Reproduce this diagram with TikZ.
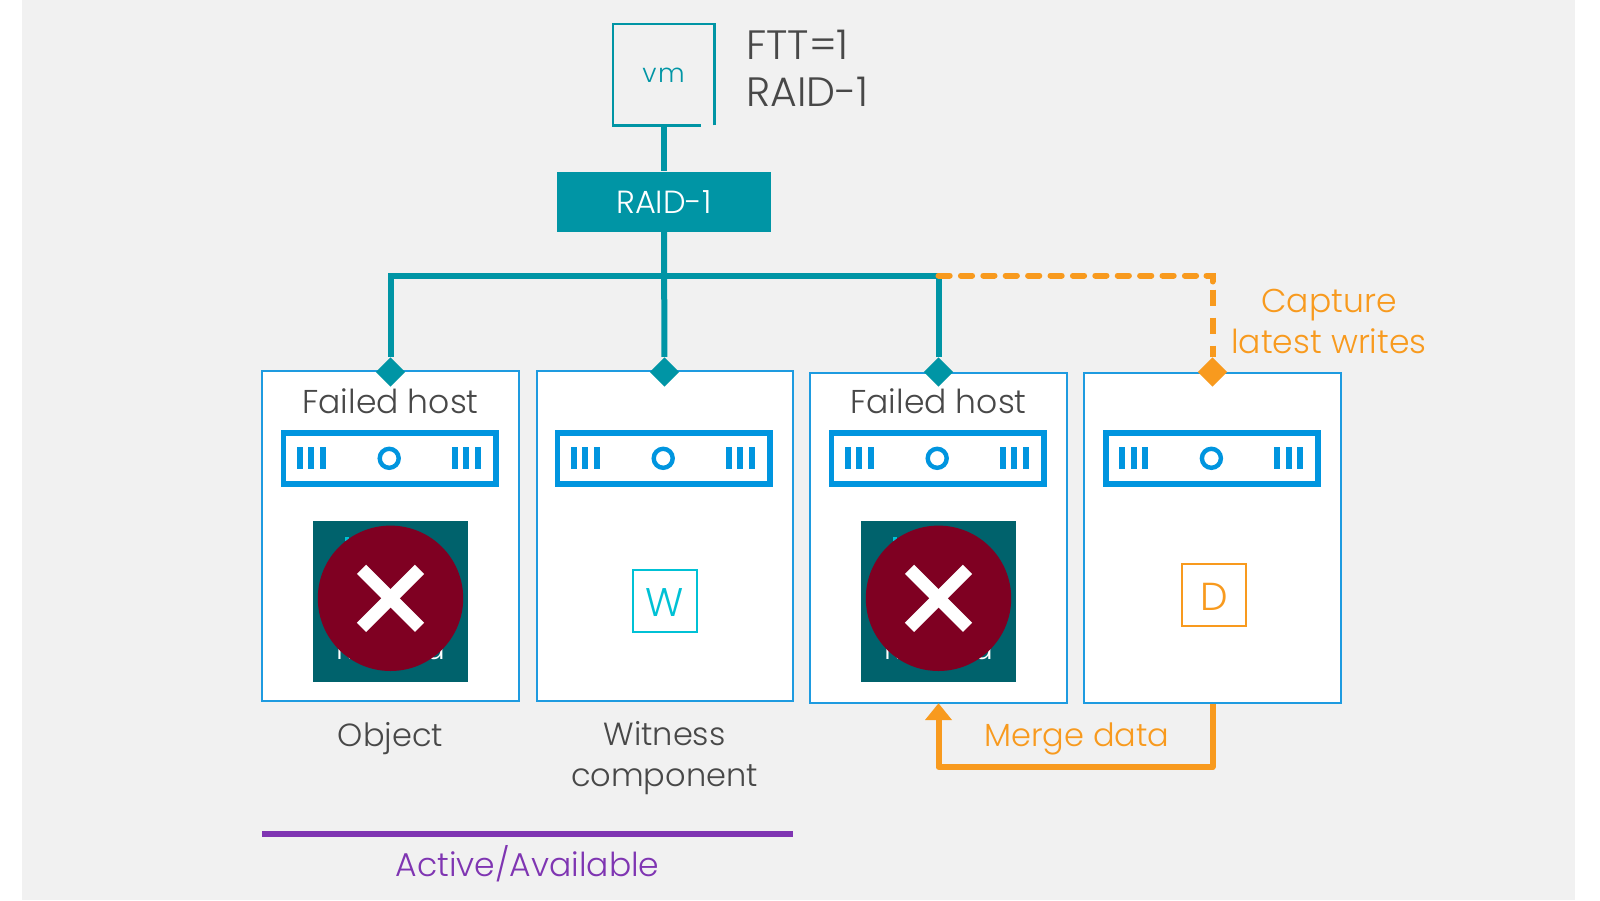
\documentclass[tikz,border=0pt]{standalone}
\usepackage{fontspec}
\setmainfont{Poppins}[UprightFont=* Light]
\usetikzlibrary{shapes.geometric,calc}
\definecolor{bgg}{HTML}{F1F1F1}
\definecolor{tealc}{HTML}{0095A5}
\definecolor{darkt}{HTML}{00626C}
\definecolor{redc}{HTML}{7F0022}
\definecolor{bluec}{HTML}{0095DF}
\definecolor{boxb}{HTML}{1E9BE0}
\definecolor{orangec}{HTML}{F89A1E}
\definecolor{purplec}{HTML}{7F35B2}
\definecolor{textc}{HTML}{484848}
\definecolor{cyanc}{HTML}{00C1D5}
\tikzset{
  x=0.5pt,y=-0.5pt,
  hostbox/.style={draw=boxb,fill=white,line width=1pt,inner sep=0pt},
  conn/.style={draw=tealc,line width=3pt},
  orconn/.style={draw=orangec,line width=3pt},
  jewel/.style={diamond,fill=#1,minimum width=14.7pt,minimum height=14.7pt,inner sep=0pt},
  lbl/.style={text=textc,font=\fontsize{16}{20.5}\selectfont,inner sep=0pt,align=center},
  fhlbl/.style={text=textc,font=\fontsize{16.5}{20}\selectfont,inner sep=0pt,align=center},
  orlbl/.style={text=orangec,font=\fontsize{16.5}{20.5}\selectfont,inner sep=0pt,align=center},
  mglbl/.style={text=orangec,font=\fontsize{16}{20}\selectfont,inner sep=0pt,align=center},
  big/.style={text=textc,font=\fontsize{20.5}{25}\selectfont,inner sep=0pt,anchor=west},
}
\newcommand{\serverAt}[1]{%
  \begin{scope}[shift={(#1,0)}]
    \draw[bluec,line width=2.9pt] (4.4,432.9) rectangle (217,483.8);
    \foreach \bx in {17.7,29.3,41,172.7,184.3,196}
      \fill[bluec] (\bx,447.3) rectangle ++(6,22);
    \draw[bluec,line width=2.2pt] (110.2,458.3) circle (9.5);
  \end{scope}}
\newcommand{\failAt}[2]{%
  \fill[darkt] (#1-78,520.7) rectangle (#1+77,681.7);
  \fill[cyanc] (#1-46,537) rectangle ++(4,4);
  \node[text=white,font=\fontsize{15}{18}\selectfont,inner sep=0pt] at (#1,652) {Replica};
  \node[circle,fill=redc,minimum size=72.7pt,inner sep=0pt] (#2) at (#1,598.3) {};
  \draw[white,line width=6.5pt] ($(#2)+(-29,-29)$) -- ($(#2)+(29,29)$);
  \draw[white,line width=6.5pt] ($(#2)+(-29,29)$) -- ($(#2)+(29,-29)$);
}
\begin{document}
\begin{tikzpicture}
\useasboundingbox (0,0) rectangle (1600,900);
\fill[white] (0,0) rectangle (1600,900);
\fill[bgg] (22,0) rectangle (1575,900);
% vm
\node[inner sep=0pt,minimum width=50.5pt,minimum height=50.5pt] (vm) at (663.5,74.5) {};
\draw[tealc,line width=1.1pt] (vm.south east) -- (vm.north east) -- (vm.north west) -- (vm.south west) -- ++(88,0);
\node[text=tealc,font=\fontsize{13}{16}\selectfont\addfontfeature{LetterSpace=6},inner sep=0pt] at (663.5,75.5) {vm};
\node[big] (ftt) at (746,45) {FTT=1};
\node[big] (rd) at (746,92) {RAID-1};
\node[fill=tealc,text=white,minimum width=107pt,minimum height=30pt,inner sep=0pt,font=\fontsize{16}{18}\selectfont] (raid) at (664,201.7) {RAID-1};
% hosts
\node[hostbox,minimum width=128.4pt,minimum height=165pt] (h1) at (390.8,536) {};
\node[hostbox,minimum width=128pt,minimum height=165pt] (h2) at (665,536) {};
\node[hostbox,minimum width=128.5pt,minimum height=165pt] (h3) at (938.7,537.5) {};
\node[hostbox,minimum width=128.5pt,minimum height=165pt] (h4) at (1212.5,537.5) {};
\serverAt{279}
\serverAt{553}
\serverAt{827}
\serverAt{1101.2}
\failAt{390.5}{c1}
\failAt{938.5}{c3}
\node[draw=cyanc,fill=white,line width=1pt,minimum width=32pt,minimum height=31pt,inner sep=0pt] (w) at (664.5,601) {};
\node[text=cyanc,font=\fontsize{20}{24}\selectfont,inner sep=0pt] at (664.5,603) {W};
\node[draw=orangec,fill=white,line width=1pt,minimum width=32pt,minimum height=31pt,inner sep=0pt] (dbox) at (1214,595) {};
\node[text=orangec,font=\fontsize{19.5}{24}\selectfont,inner sep=0pt] at (1214.5,596.5) {D};
% connectors
\node[jewel=tealc] (d1) at (390.5,372) {};
\node[jewel=tealc] (d2) at (664.5,372) {};
\node[jewel=tealc] (d3) at (938.5,372) {};
\node[jewel=orangec] (d4) at (1212.5,372) {};
\coordinate (j) at (664.5,275.5);
\coordinate (jl) at (d1|-j);
\coordinate (jr) at (d3|-j);
\coordinate (jo) at (d4|-j);
\draw[conn] (vm.south-|raid.north) -- (raid.north);
\draw[conn] (raid.south) -- (d2);
\draw[conn] (d1) -- (jl) -- (jr) -- (d3);
\draw[orconn,line cap=round,dash pattern=on 5.6pt off 5.6pt] (jr) -- ($(jo)+(-6,0)$);
\draw[orconn,line cap=round] ($(jo)+(-6,0)$) -- (jo) -- ($(jo)+(0,6)$);
\draw[orconn,dash pattern=on 0pt off 3pt on 8pt off 3pt] ($(jo)+(0,8)$) -- (d4);
\coordinate (m1) at (1212.5,767);
\coordinate (m2) at (938.5,767);
\draw[orconn,line join=round] (h4.south-|m1) -- (m1) -- (m2) -- (938.5,718);
\fill[orangec] (938.5,703.3) -- (952,720) -- (925,720) -- cycle;
% labels
\node[fhlbl] (fh1) at (390.5,401) {Failed host};
\node[fhlbl] (fh3) at (938.5,401) {Failed host};
\node[lbl] (obj) at (390.5,739) {Object};
\node[lbl] (wit) at (664.5,758.5) {Witness\\component};
\node[orlbl] (cap) at (1329,321) {Capture\\latest writes};
\node[mglbl] (mrg) at (1077,738.5) {Merge data};
\node[fill=purplec,minimum width=265.5pt,minimum height=3pt,inner sep=0pt] (pl) at (527.2,833.5) {};
\node[text=purplec,font=\fontsize{16.5}{20}\selectfont,inner sep=0pt] (act) at (527.5,864) {Active/Available};
\end{tikzpicture}
\end{document}
